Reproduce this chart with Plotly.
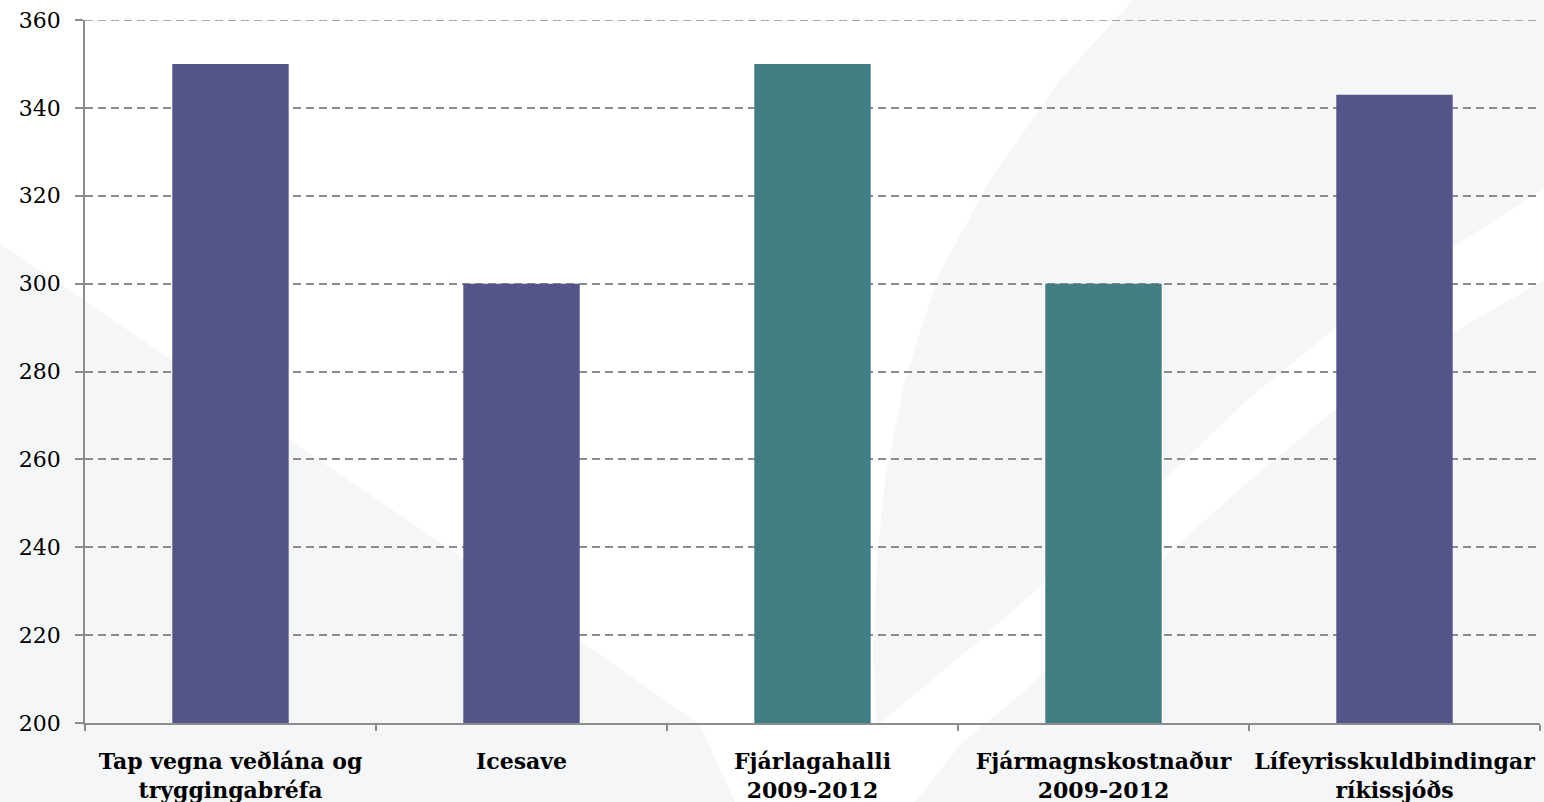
import plotly.graph_objects as go

categories = [
    "Tap vegna veðlána og<br>tryggingabréfa",
    "Icesave",
    "Fjárlagahalli<br>2009-2012",
    "Fjármagnskostnaður<br>2009-2012",
    "Lífeyrisskuldbindingar<br>ríkissjóðs",
]
values = [350, 300, 350, 300, 343]
bar_colors = ["#535487", "#535487", "#437d84", "#437d84", "#535487"]
y_ticks = [200, 220, 240, 260, 280, 300, 320, 340, 360]

W, H = 1544, 802
ML, MR, MT, MB = 85, 4, 20, 79
PW, PH = W - ML - MR, H - MT - MB
GRID = "#8c8c8c"


def px(x, y):
    return (x - ML) / PW, (H - MB - y) / PH


def path_from(points):
    parts = []
    for i, (x, y) in enumerate(points):
        a, b = px(x, y)
        parts.append(("M" if i == 0 else "L") + f"{a:.5f},{b:.5f}")
    return " ".join(parts) + " Z"


bg_gray = "#f5f6f8"
left_shape = [(-20, 230), (447, 547), (700, 725), (735, 802), (740, 830), (-20, 830)]
right_upper = [(1133, -20), (1580, -20), (1580, 166), (1544, 189), (1440, 255), (1336, 327),
               (1245, 402), (1159, 485), (1070, 560), (982, 638), (920, 690), (876, 726),
               (873, 650), (877, 560), (885, 480), (905, 380), (938, 276), (990, 180),
               (1060, 80), (1133, 0)]
right_lower = [(900, 830), (915, 802), (960, 745), (1026, 690), (1159, 562), (1250, 480),
               (1336, 409), (1440, 340), (1544, 280), (1580, 258), (1580, 830)]

shapes = []
for pts in (left_shape, right_upper, right_lower):
    shapes.append(dict(type="path", xref="paper", yref="paper", path=path_from(pts),
                       fillcolor=bg_gray, line=dict(width=0), layer="below"))
# top gridline (plotly omits the grid line at the range edge)
shapes.append(dict(type="line", xref="paper", yref="y", x0=0, x1=1, y0=y_ticks[-1], y1=y_ticks[-1],
                   line=dict(color=GRID, width=1.5, dash="8px,5px"), layer="below"))

fig = go.Figure(go.Bar(
    x=categories, y=values, marker=dict(color=bar_colors, line=dict(width=0)),
    width=0.4, hoverinfo="x+y",
))

fig.update_layout(
    width=W, height=H,
    margin=dict(l=ML, r=MR, t=MT, b=MB),
    paper_bgcolor="white",
    plot_bgcolor="rgba(0,0,0,0)",
    showlegend=False,
    shapes=shapes,
    font=dict(family="DejaVu Serif", color="black"),
)
fig.update_yaxes(
    range=[200, 360], tickvals=y_ticks, ticktext=[str(v) for v in y_ticks],
    showgrid=True, gridcolor=GRID, gridwidth=1.5, griddash="8px,5px",
    showline=True, linecolor=GRID, linewidth=1.5,
    ticks="outside", ticklen=8, tickcolor=GRID, tickwidth=1.5,
    tickfont=dict(family="DejaVu Serif", size=22, color="black"),
    ticklabelstandoff=10, zeroline=False, automargin=False,
)
fig.update_xaxes(
    showline=True, linecolor=GRID, linewidth=1.5,
    ticks="outside", ticklen=6, tickcolor=GRID, tickwidth=1.5,
    tickson="boundaries", showgrid=False,
    tickfont=dict(family="DejaVu Serif", size=22, color="black", weight="bold"),
    ticklabelstandoff=18, automargin=False,
)

fig.write_html(
    "out.html",
    config={"displayModeBar": False},
    post_script="document.body.style.margin='0';document.body.style.overflow='hidden';",
)
